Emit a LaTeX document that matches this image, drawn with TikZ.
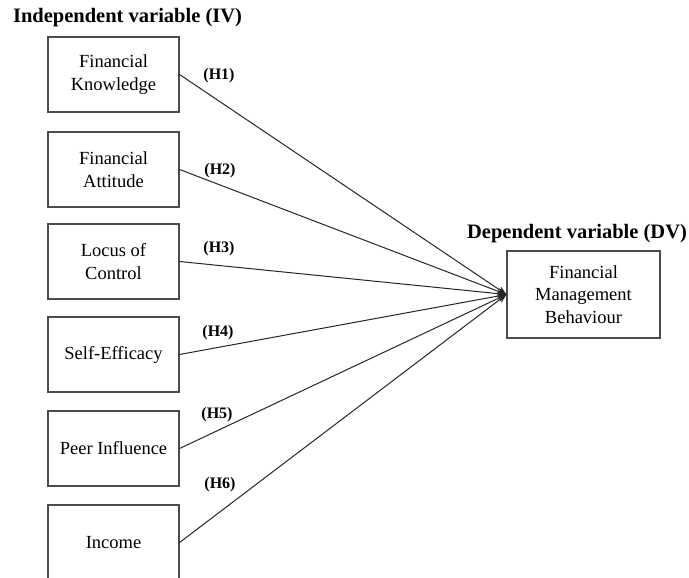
\documentclass[tikz,border=0pt]{standalone}
\usepackage{fontspec}
\setmainfont{Liberation Serif}
\usetikzlibrary{arrows.meta}
\begin{document}
\begin{tikzpicture}[x=1pt,y=-1pt,
  ivbox/.style={draw=black!70,line width=1.1pt,minimum width=131pt,minimum height=75pt,inner sep=0pt,align=center,font=\fontsize{18.5}{22.5}\selectfont},
  dvbox/.style={draw=black!70,line width=1.1pt,minimum width=153pt,minimum height=87pt,inner sep=0pt,align=center,font=\fontsize{18.5}{22.5}\selectfont},
  title/.style={font=\fontsize{20.5}{24}\selectfont\bfseries,inner sep=0pt},
  hlab/.style={font=\fontsize{16}{19}\selectfont\bfseries,inner sep=0pt},
  link/.style={draw=black!85,line width=1pt,-{Stealth[length=9pt,width=7pt]}}]
\useasboundingbox (0,0) rectangle (689,578);
\clip (0,0) rectangle (689,578);
\node[title] (ivt) at (127.5,18) {Independent variable (IV)};
\node[title] (dvt) at (577,234) {Dependent variable (DV)};
\node[ivbox] (fk) at (113.5,74.5) {Financial\\Knowledge};
\node[ivbox] (fa) at (113.5,169.5) {Financial\\Attitude};
\node[ivbox] (lc) at (113.5,261.5) {Locus of\\Control};
\node[ivbox] (se) at (113.5,354.5) {Self-Efficacy};
\node[ivbox] (pi) at (113.5,448.5) {Peer Influence};
\node[ivbox] (in) at (113.5,542.5) {Income};
\node[dvbox] (dv) at (583.5,294.5) {Financial\\Management\\Behaviour};
\foreach \s in {fk,fa,lc,se,pi,in} \draw[link] (\s.east) -- (dv.west);
\node[hlab] (h1) at (219,76) {(H1)};
\node[hlab] (h2) at (220,171) {(H2)};
\node[hlab] (h3) at (219,249) {(H3)};
\node[hlab] (h4) at (218,333) {(H4)};
\node[hlab] (h5) at (217,415) {(H5)};
\node[hlab] (h6) at (220,485) {(H6)};
\end{tikzpicture}
\end{document}
